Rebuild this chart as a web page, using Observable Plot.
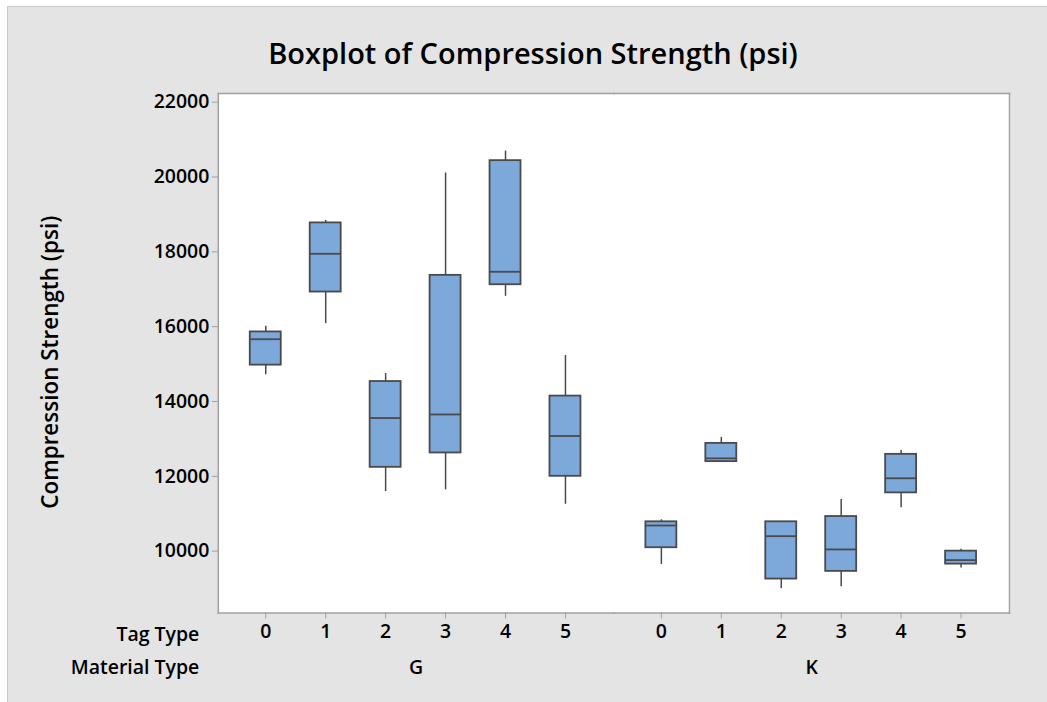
<!DOCTYPE html>
<html>
<head>
<meta charset="utf-8">
<script src="https://cdn.jsdelivr.net/npm/d3@7"></script>
<script src="https://cdn.jsdelivr.net/npm/@observablehq/plot@0.6"></script>
<style>
  html, body { margin: 0; padding: 0; background: #ffffff; }
  #panel {
    position: absolute; left: 7px; top: 6px; width: 1040px; height: 696px;
    background: #e4e4e4; border-left: 1px solid #c9c9c9; border-top: 1px solid #c9c9c9;
    box-sizing: border-box; font-family: "Open Sans", "Noto Sans", sans-serif;
  }
  #title {
    height: 70px; box-sizing: border-box; padding-top: 28px; padding-left: 11px;
    line-height: 36px; text-align: center; font-size: 29px; font-weight: 600; color: #000;
  }
  #chart svg { display: block; }
</style>
</head>
<body>
<div id="panel">
  <div id="title">Boxplot of Compression Strength (psi)</div>
  <div id="chart"></div>
</div>
<script>
// ---- data ----
const materials = ["G","G","G","G","G","G","K","K","K","K","K","K"];
const tags      = ["0","1","2","3","4","5","0","1","2","3","4","5"];
const whiskerLow  = [14712, 16080, 11592, 11637, 16811, 11253,  9645, 12392,  8997,  9051, 11157,  9547];
const q1          = [14971, 16925, 12240, 12624, 17120, 12000, 10091, 12392,  9253,  9459, 11557,  9653];
const medians     = [15664, 17947, 13557, 13653, 17467, 13077, 10685, 12480, 10400, 10045, 11947,  9760];
const q3          = [15859, 18773, 14533, 17371, 20437, 14144, 10784, 12880, 10784, 10925, 12587, 10000];
const whiskerHigh = [16011, 18837, 14747, 20107, 20693, 15227, 10837, 13040, 10784, 11379, 12693, 10053];
const tagDomain = ["0","1","2","3","4","5"];
const materialDomain = ["G","K"];
const yTicks = [10000, 12000, 14000, 16000, 18000, 20000, 22000];
const yDomain = [8347, 22232];

const data = tags.map((t, i) => ({
  material: materials[i], tag: t,
  lo: whiskerLow[i], q1: q1[i], med: medians[i], q3: q3[i], hi: whiskerHigh[i]
}));

const boxStroke = "#4a4a4a";
const frameStroke = "#a0a0a0";

const chart = Plot.plot({
  width: 1040,
  height: 626,
  marginLeft: 209,
  marginRight: 38,
  marginTop: 16,
  marginBottom: 90,
  style: {background: "transparent", fontFamily: "'Open Sans', 'Noto Sans', sans-serif", fontSize: "19.5px", fontWeight: 600, color: "#000"},
  x: {domain: tagDomain, paddingInner: 0.48, paddingOuter: 0.517, label: null},
  fx: {domain: materialDomain, padding: 0, label: null},
  y: {domain: yDomain, label: null},
  marks: [
    Plot.frame({fill: "white", stroke: null, insetRight: -1}),
    Plot.frame({anchor: "top", stroke: frameStroke, strokeWidth: 1.5}),
    Plot.frame({anchor: "bottom", stroke: frameStroke, strokeWidth: 1.5}),
    Plot.frame({anchor: "left", stroke: frameStroke, strokeWidth: 1.5, facetAnchor: "left"}),
    Plot.frame({anchor: "right", stroke: frameStroke, strokeWidth: 1.5, facetAnchor: "right"}),
    Plot.ruleX(data, {fx: "material", x: "tag", y1: "lo", y2: "q1", stroke: boxStroke, strokeWidth: 1.5}),
    Plot.ruleX(data, {fx: "material", x: "tag", y1: "q3", y2: "hi", stroke: boxStroke, strokeWidth: 1.5}),
    Plot.barY(data, {fx: "material", x: "tag", y1: "q1", y2: "q3", fill: "#7da8da", stroke: boxStroke, strokeWidth: 1.8}),
    Plot.tickY(data, {fx: "material", x: "tag", y: "med", stroke: boxStroke, strokeWidth: 1.8}),
    Plot.axisY({ticks: yTicks, tickFormat: d => String(d), tickSize: 6, tickPadding: 3, stroke: frameStroke, fill: "#000", label: null}),
    Plot.axisX({tickSize: 6, tickPadding: 5, stroke: frameStroke, fill: "#000", label: null}),
    Plot.axisFx({anchor: "bottom", tickSize: 0, tickPadding: 47, fill: "#000", label: null}),
    Plot.text(["Compression Strength (psi)"], {frameAnchor: "left", rotate: -90, dx: -168, dy: 9, fontSize: 22.5, textAnchor: "middle", lineAnchor: "middle", fill: "#000", facetAnchor: "left"}),
    Plot.text(["Tag Type"], {frameAnchor: "bottom-left", dx: -19, dy: 22, textAnchor: "end", lineAnchor: "middle", fill: "#000", facetAnchor: "left"}),
    Plot.text(["Material Type"], {frameAnchor: "bottom-left", dx: -19, dy: 55, textAnchor: "end", lineAnchor: "middle", fill: "#000", facetAnchor: "left"})
  ]
});
document.getElementById("chart").appendChild(chart);
</script>
</body>
</html>
